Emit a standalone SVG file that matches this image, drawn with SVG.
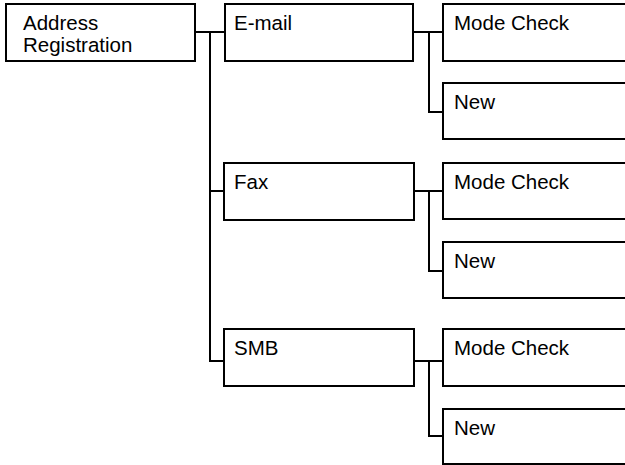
<svg xmlns="http://www.w3.org/2000/svg" width="625" height="465" viewBox="0 0 625 465">
<style>
.box{fill:#fff;stroke:#000;stroke-width:2}
.ln{fill:none;stroke:#000;stroke-width:2}
text{font-family:"Liberation Sans",Arial,sans-serif;font-size:20.5px;fill:#000}
</style>
<rect width="625" height="465" fill="#fff"/>
<g id="connectors">
<path class="ln" d="M195,32H225M210,32V361H224M210,191H224"/>
<path class="ln" d="M413,32H443M429,32V112H443"/>
<path class="ln" d="M414,191H443M429,191V271H443"/>
<path class="ln" d="M414,361H443M429,361V436H443"/>
</g>
<g id="address"><rect class="box" x="6" y="4" width="189" height="57"/><text x="23" y="30">Address</text><text x="23" y="52">Registration</text></g>
<g id="email"><rect class="box" x="225" y="4" width="188" height="57"/><text x="234" y="30">E-mail</text></g>
<g id="email-mode"><rect class="box" x="443" y="4" width="190" height="57"/><text x="454" y="30">Mode Check</text></g>
<g id="email-new"><rect class="box" x="443" y="83" width="190" height="56"/><text x="454" y="109">New</text></g>
<g id="fax"><rect class="box" x="224" y="163" width="190" height="57"/><text x="234" y="189">Fax</text></g>
<g id="fax-mode"><rect class="box" x="443" y="163" width="190" height="56"/><text x="454" y="189">Mode Check</text></g>
<g id="fax-new"><rect class="box" x="443" y="242" width="190" height="56"/><text x="454" y="268">New</text></g>
<g id="smb"><rect class="box" x="224" y="329" width="190" height="57"/><text x="234" y="355">SMB</text></g>
<g id="smb-mode"><rect class="box" x="443" y="329" width="190" height="57"/><text x="454" y="355">Mode Check</text></g>
<g id="smb-new"><rect class="box" x="443" y="409" width="190" height="55"/><text x="454" y="435">New</text></g>
</svg>
